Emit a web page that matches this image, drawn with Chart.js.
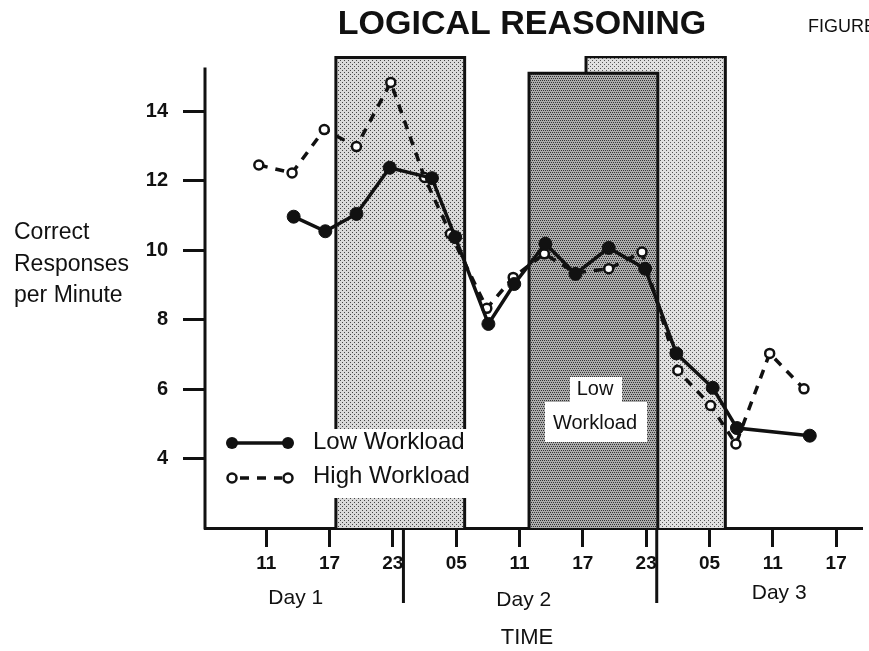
<!DOCTYPE html>
<html lang="en">
<head>
<meta charset="UTF-8">
<title>Logical Reasoning</title>
<script src="https://cdn.jsdelivr.net/npm/chart.js"></script>
<style>
  html, body { margin: 0; padding: 0; background: #fff; }
  #wrap { width: 869px; height: 651px; }
</style>
</head>
<body>
<div id="wrap"><canvas id="chart"></canvas></div>
<script>
// time is in hours counted from Day 1 00:00
const lowTime   = [13.6, 16.6, 19.55, 22.7, 26.7, 28.9, 32.05, 34.5, 37.45, 40.3, 43.45, 46.9, 49.86, 53.3, 55.6, 62.5];
const lowValue  = [10.97, 10.55, 11.05, 12.38, 12.08, 10.38, 7.88, 9.03, 10.19, 9.32, 10.07, 9.47, 7.03, 6.04, 4.88, 4.66];
const highTime  = [10.3, 13.45, 16.5, 19.55, 22.8, 26.0, 28.45, 31.9, 34.4, 37.35, 40.3, 43.45, 46.6, 50.0, 53.1, 55.5, 58.7, 61.95];
const highValue = [12.46, 12.23, 13.48, 12.99, 14.84, 12.1, 10.48, 8.33, 9.22, 9.9, 9.35, 9.47, 9.95, 6.54, 5.53, 4.42, 7.03, 6.01];

// shaded periods (first, the one behind, then the front one)
const shadeStart = [17.6, 41.3, 35.9];
const shadeEnd   = [29.8, 54.5, 48.1];
const shadeTop   = [15.56, 15.58, 15.1];

const xTicks = [11, 17, 23, 29, 35, 41, 47, 53, 59, 65];
const yTicks = [4, 6, 8, 10, 12, 14];
const dayBreaks = [24, 48];
const dayNames = ['Day 1', 'Day 2', 'Day 3'];
const dayCenters = [13.8, 35.4, 59.6];

const FONT = "'Liberation Sans', Arial, Helvetica, sans-serif";
const INK = '#111';

// dotted screen tones like the printed figure
function stipple(bg, dot, spots) {
    const c = document.createElement('canvas');
    c.width = 4; c.height = 4;
    const g = c.getContext('2d');
    g.fillStyle = bg;
    g.fillRect(0, 0, 4, 4);
    g.fillStyle = dot;
    spots.forEach(p => g.fillRect(p[0], p[1], 1, 1));
    return g.createPattern(c, 'repeat');
}
const lightTone   = stipple('#d9d9d9', '#444', [[0, 0], [2, 2]]);
const lighterTone = stipple('#e0e0e0', '#555', [[0, 0], [2, 2]]);
const darkTone    = stipple('#acacac', '#333', [[0, 0], [2, 0], [1, 2], [3, 2]]);
const shadeFills  = [lightTone, lighterTone, darkTone];
const shadeOrder  = [3, 4, 2];

const shadeSets = shadeStart.map((s, i) => ({
    label: 'shade' + i,
    data: [{x: s, y: 2}, {x: s, y: shadeTop[i]}, {x: shadeEnd[i], y: shadeTop[i]}, {x: shadeEnd[i], y: 2}],
    borderColor: INK,
    borderWidth: 3,
    borderJoinStyle: 'miter',
    backgroundColor: shadeFills[i],
    fill: 'start',
    pointRadius: 0,
    tension: 0,
    order: shadeOrder[i]
}));

const notes = {
    id: 'notes',
    afterDraw(chart) {
        const {ctx, scales: {x, y}} = chart;
        ctx.save();
        ctx.strokeStyle = INK;
        ctx.fillStyle = INK;

        // y axis line stops a bit below the shaded boxes
        ctx.lineWidth = 3;
        ctx.beginPath();
        ctx.moveTo(x.left, y.getPixelForValue(15.27));
        ctx.lineTo(x.left, y.bottom + 1.5);
        ctx.stroke();

        // day separators under the time axis
        dayBreaks.forEach(t => {
            const px = x.getPixelForValue(t);
            ctx.beginPath();
            ctx.moveTo(px, y.bottom);
            ctx.lineTo(px, 603);
            ctx.stroke();
        });

        ctx.textBaseline = 'middle';
        ctx.textAlign = 'center';
        ctx.font = '21px ' + FONT;
        dayNames.forEach((d, i) => ctx.fillText(d, x.getPixelForValue(dayCenters[i]), [598, 600, 593][i]));
        ctx.font = '22px ' + FONT;
        ctx.fillText('TIME', 527, 638);

        ctx.font = 'bold 34px ' + FONT;
        ctx.fillText('LOGICAL REASONING', 522, 25);
        ctx.textAlign = 'left';
        ctx.font = '18px ' + FONT;
        ctx.fillText('FIGURE', 808, 27);

        ctx.font = '23px ' + FONT;
        ctx.fillText('Correct', 14, 233);
        ctx.fillText('Responses', 14, 265);
        ctx.fillText('per Minute', 14, 296);

        // label inside the dark box
        ctx.fillStyle = '#fff';
        ctx.fillRect(570, 377, 52, 25);
        ctx.fillRect(545, 402, 102, 40);
        ctx.fillStyle = INK;
        ctx.textAlign = 'center';
        ctx.font = '20px ' + FONT;
        ctx.fillText('Low', 595, 389);
        ctx.fillText('Workload', 595, 423);

        // legend
        ctx.fillStyle = '#fff';
        ctx.fillRect(212, 429, 266, 69);
        ctx.fillStyle = INK;
        ctx.lineWidth = 3.5;
        ctx.beginPath();
        ctx.moveTo(232, 443);
        ctx.lineTo(288, 443);
        ctx.stroke();
        [232, 288].forEach(px => {
            ctx.beginPath();
            ctx.arc(px, 443, 6, 0, Math.PI * 2);
            ctx.fill();
        });
        ctx.setLineDash([9, 8]);
        ctx.beginPath();
        ctx.moveTo(240, 478);
        ctx.lineTo(282, 478);
        ctx.stroke();
        ctx.setLineDash([]);
        ctx.lineWidth = 2.5;
        [232, 288].forEach(px => {
            ctx.beginPath();
            ctx.arc(px, 478, 4.5, 0, Math.PI * 2);
            ctx.fillStyle = '#fff';
            ctx.fill();
            ctx.stroke();
        });
        ctx.fillStyle = INK;
        ctx.textAlign = 'left';
        ctx.font = '24px ' + FONT;
        ctx.fillText('Low Workload', 313, 442);
        ctx.fillText('High Workload', 313, 476);
        ctx.restore();
    }
};

new Chart(document.getElementById('chart'), {
    type: 'line',
    data: {
        datasets: [
            {
                label: 'Low Workload',
                data: lowTime.map((t, i) => ({x: t, y: lowValue[i]})),
                borderColor: INK,
                borderWidth: 3.5,
                pointRadius: 6.5,
                pointBorderWidth: 1,
                pointBackgroundColor: INK,
                pointBorderColor: INK,
                tension: 0,
                fill: false,
                order: 0
            },
            {
                label: 'High Workload',
                data: highTime.map((t, i) => ({x: t, y: highValue[i]})),
                borderColor: INK,
                borderWidth: 3.5,
                borderDash: [9, 8],
                pointRadius: 4.5,
                pointBorderWidth: 2.5,
                pointBackgroundColor: '#fff',
                pointBorderColor: INK,
                tension: 0,
                fill: false,
                order: 1
            },
            ...shadeSets
        ]
    },
    options: {
        responsive: true,
        maintainAspectRatio: false,
        animation: false,
        layout: { padding: { top: 56, right: 0, bottom: 0, left: 0 } },
        plugins: {
            legend: { display: false },
            tooltip: { enabled: false },
            title: { display: false }
        },
        scales: {
            x: {
                type: 'linear',
                min: 5.2,
                max: 67.4,
                afterBuildTicks: s => { s.ticks = xTicks.map(v => ({value: v})); },
                afterFit: s => { s.height = 123; },
                ticks: {
                    callback: v => String(v % 24).padStart(2, '0'),
                    color: INK,
                    padding: 5,
                    maxRotation: 0,
                    autoSkip: false,
                    font: { family: FONT, size: 19, weight: 'bold' }
                },
                grid: { drawOnChartArea: false, tickLength: 19, lineWidth: 3, color: INK },
                border: { display: true, color: INK, width: 3 }
            },
            y: {
                min: 2,
                max: 15.6,
                afterBuildTicks: s => { s.ticks = yTicks.map(v => ({value: v})); },
                afterFit: s => { s.width = 205; },
                ticks: {
                    color: INK,
                    padding: 15,
                    font: { family: FONT, size: 20, weight: 'bold' }
                },
                grid: { drawOnChartArea: false, tickLength: 22, lineWidth: 3, color: INK },
                border: { display: false }
            }
        }
    },
    plugins: [notes]
});
</script>
</body>
</html>
